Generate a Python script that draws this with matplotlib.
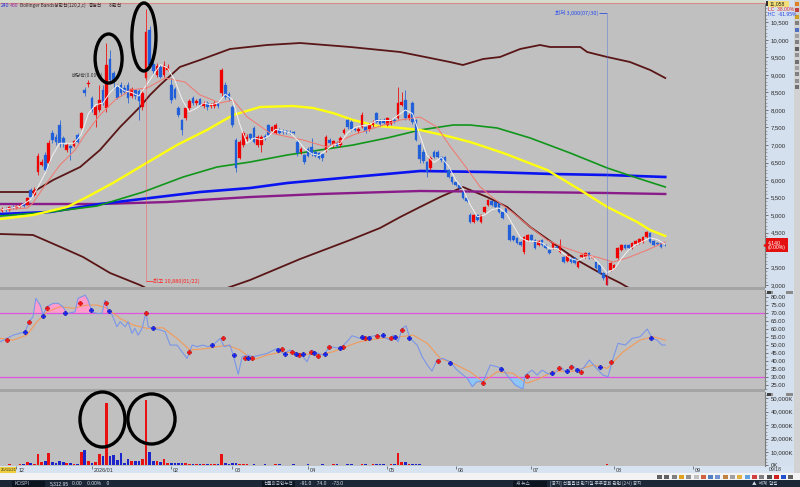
import matplotlib
matplotlib.use("Agg")
import matplotlib.pyplot as plt
import numpy as np
from matplotlib.patches import Ellipse, Rectangle
from matplotlib.ticker import MultipleLocator

plt.rcParams["font.family"] = ["Liberation Sans Narrow", "Liberation Sans", "DejaVu Sans"]
KR = ["Noto Sans CJK KR", "DejaVu Sans"]

# ---------------- data (daily candles, index 0 = first visible day) ----------------
opens = [5120, 5180, 5140, 5220, 5190, 5260, 5300, 5300, 5710, 5560,
         6230, 6440, 6710, 6490, 7340, 7230, 7570, 7200, 6860, 6960,
         6980, 7290, 7490, 8560, 8750, 8340, 7860, 8000, 8570, 8050,
         9460, 9060, 8660, 8710, 8630, 8710, 8400, 8560, 8550, 8085,
         8910, 10290, 9300, 9000, 9230, 9000, 9140, 8710, 8600, 8060,
         7710, 7770, 8050, 8340, 8200, 8300, 8100, 8200, 8100, 8100,
         8200, 8485, 8710, 8450, 8085, 7140, 6630, 7000, 7180, 7300,
         7490, 7000, 7000, 7250, 7570, 7400, 7340, 7430, 7400, 7390,
         7380, 7370, 7090, 6800, 6710, 6900, 6950, 6800, 6770, 6750,
         6860, 7150, 7000, 7050, 7000, 7340, 7710, 7650, 7450, 7400,
         7500, 7500, 7450, 7570, 7910, 7700, 7720, 7570, 7600, 7720,
         7770, 8150, 8290, 7770, 8200, 7710, 7000, 6800, 6510, 6340,
         6800, 6800, 6660, 6660, 6290, 6090, 5940, 5860, 5660, 5490,
         5000, 4800, 5000, 4800, 5090, 5290, 5400, 5370, 5340, 5090,
         5200, 4710, 4400, 4340, 4230, 3940, 4290, 4430, 4290, 4150,
         4290, 4140, 4000, 4060, 4100, 3940, 3800, 3700, 3770, 3770,
         3510, 3800, 3800, 3910, 3770, 3660, 3570, 3350, 3010, 3430,
         3500, 3770, 4000, 4140, 4140, 4060, 4170, 4200, 4230, 4370,
         4490, 4250, 4200, 4200, 4150]
closes = [5180, 5140, 5220, 5190, 5260, 5300, 5270, 5480, 5520, 5720,
          6700, 6520, 6290, 7060, 7140, 7085, 7060, 7060, 7000, 6910,
          7100, 7090, 7910, 8480, 8780, 8000, 8090, 8290, 8200, 9290,
          8860, 8800, 8340, 8490, 8500, 8340, 8600, 8400, 8250, 8490,
          10230, 9290, 9100, 9250, 8940, 9290, 9230, 8290, 8350, 7860,
          7430, 8060, 8250, 8200, 8260, 8150, 8200, 8080, 8150, 8200,
          8120, 9140, 8370, 8340, 7570, 6340, 7090, 7340, 7220, 7200,
          7090, 7230, 7230, 7200, 7290, 7500, 7570, 7340, 7360, 7360,
          7340, 7330, 6770, 6900, 6510, 6700, 6750, 6700, 6630, 6620,
          7230, 7050, 7100, 6980, 7200, 7430, 7510, 7450, 7430, 7450,
          7850, 7400, 7570, 7660, 7660, 7600, 7640, 7770, 7700, 7680,
          8200, 8230, 7770, 7850, 7660, 7140, 6600, 6550, 6230, 6630,
          6660, 6660, 6570, 6290, 6090, 5940, 5860, 5780, 5490, 5400,
          4800, 5000, 4850, 5000, 5230, 5430, 5290, 5230, 5090, 4910,
          5060, 4290, 4300, 4200, 4150, 4370, 4430, 4290, 4060, 4250,
          4150, 4060, 3910, 4200, 4060, 4140, 3660, 3850, 3660, 3630,
          3660, 3850, 3910, 3770, 3800, 3490, 3340, 3200, 3230, 3630,
          3560, 4060, 4140, 4060, 4060, 4200, 4260, 4310, 4370, 4510,
          4230, 4150, 4160, 4090, 4140]
highs = [5230, 5220, 5260, 5280, 5300, 5350, 5360, 5520, 5760, 5800,
         6780, 6600, 6800, 7150, 7420, 7300, 7710, 7250, 7050, 7000,
         7150, 7330, 7950, 8650, 8860, 8400, 8150, 8700, 8700, 9910,
         9700, 9100, 8750, 8800, 8700, 8800, 8650, 8600, 8600, 8600,
         10880, 10400, 9400, 9350, 9300, 9400, 9300, 8900, 8650, 8100,
         7750, 8100, 8300, 8400, 8300, 8350, 8250, 8250, 8200, 8250,
         8250, 9200, 8800, 8500, 8150, 7200, 7150, 7400, 7300, 7350,
         7550, 7280, 7280, 7300, 7600, 7550, 7630, 7480, 7450, 7420,
         7420, 7400, 7150, 6950, 6750, 6950, 7200, 6850, 6800, 6780,
         7280, 7200, 7150, 7100, 7250, 7480, 7750, 7700, 7500, 7500,
         7950, 7550, 7620, 7700, 7950, 7750, 7770, 7800, 7750, 7760,
         8660, 8500, 8570, 7900, 8250, 7750, 7060, 6900, 6550, 6680,
         6850, 6850, 6700, 6700, 6330, 6120, 5980, 5900, 5700, 5520,
         5050, 5040, 5030, 5040, 5270, 5470, 5440, 5400, 5370, 5120,
         5230, 4750, 4430, 4370, 4260, 4400, 4470, 4460, 4320, 4280,
         4320, 4170, 4030, 4230, 4130, 4320, 3830, 3880, 3800, 3800,
         3690, 3880, 3940, 3940, 3830, 3690, 3600, 3380, 3280, 3660,
         3600, 4090, 4170, 4170, 4170, 4230, 4290, 4340, 4400, 4540,
         4520, 4280, 4230, 4230, 4170]
lows = [5080, 5100, 5110, 5160, 5170, 5230, 5240, 5280, 5480, 5530,
        6150, 6400, 6240, 6450, 7050, 7000, 6950, 6950, 6800, 6580,
        6950, 7050, 7450, 8400, 8650, 7950, 7500, 7950, 8150, 7950,
        8800, 8600, 8300, 8400, 8450, 8200, 8350, 8300, 7710, 8000,
        8850, 9200, 9000, 8950, 8900, 8950, 9100, 8200, 8300, 7800,
        7290, 7700, 8000, 8150, 8150, 8100, 8050, 8000, 8050, 8050,
        8050, 8400, 8300, 8250, 7500, 6230, 6600, 6950, 7100, 7150,
        7050, 6950, 6800, 7150, 7250, 7350, 7300, 7300, 7320, 7320,
        7300, 7300, 6700, 6750, 6450, 6650, 6700, 6650, 6600, 6550,
        6800, 7000, 6950, 6950, 6950, 7300, 7450, 7400, 7400, 7350,
        7480, 7350, 7400, 7520, 7620, 7550, 7600, 7530, 7560, 7640,
        7740, 8100, 7720, 7720, 7600, 7100, 6490, 6500, 6100, 6300,
        6620, 6620, 6520, 6250, 6050, 5900, 5820, 5740, 5450, 5360,
        4760, 4770, 4820, 4770, 5060, 5260, 5250, 5200, 5060, 4880,
        5020, 4250, 4260, 4170, 4120, 3900, 4260, 4260, 4030, 4120,
        4120, 4030, 3880, 4030, 4030, 3910, 3630, 3670, 3630, 3600,
        3480, 3770, 3770, 3740, 3740, 3460, 3310, 3150, 3000, 3400,
        3470, 3740, 3970, 4030, 4030, 4030, 4140, 4170, 4200, 4340,
        4200, 4120, 4130, 4060, 4120]
volumes_k = [600, 450, 700, 500, 650, 800, 700, 2200, 1600, 900,
             8700, 2500, 3200, 9200, 2500, 1600, 3000, 2600, 1600, 1600,
             1200, 1200, 9900, 11200, 3200, 2000, 2500, 8200, 7000, 46200,
             7000, 7500, 4200, 9200, 2000, 4500, 3000, 3000, 3200, 4500,
             48700, 10100, 3200, 3200, 2500, 5000, 2000, 2000, 1600, 2000,
             1600, 1600, 1200, 1200, 700, 700, 700, 1400, 1400, 700,
             700, 8700, 2000, 1400, 1600, 2000, 1200, 900, 700, 600,
             800, 600, 500, 700, 600, 500, 800, 900, 600, 500,
             600, 700, 500, 600, 500, 700, 600, 500, 600, 700,
             600, 500, 700, 900, 600, 500, 1200, 700, 600, 600,
             800, 1200, 600, 700, 1400, 1400, 700, 600, 800, 700,
             9500, 2500, 2200, 1200, 800, 800, 900, 600, 500, 600,
             500, 400, 500, 600, 500, 400, 500, 600, 500, 400,
             600, 500, 400, 500, 600, 500, 400, 500, 600, 400,
             500, 600, 400, 500, 500, 600, 400, 500, 600, 400,
             500, 400, 600, 500, 400, 500, 600, 400, 500, 400,
             600, 500, 400, 500, 600, 400, 500, 600, 700, 600,
             500, 600, 500, 400, 500, 600, 500, 400, 600, 500,
             400, 500, 400, 500, 400]

# moving averages / bands (x = day index, y = price)
ma5_x = [0, 5, 8] + list(range(10, 185, 2))
ma5_y = [5150, 5250, 5450, 5800, 6200, 6700, 7050, 7050, 7050, 7300, 7900, 8150, 8200, 8500,
         8700, 8550, 8500, 8400, 8700, 9000, 9300, 9200, 8850, 8300, 7950, 8050, 8200, 8150,
         8200, 8450, 8300, 7600, 7050, 7200, 7150, 7250, 7450, 7400, 7350, 7150, 6900, 6750,
         6700, 6850, 7000, 7050, 7350, 7500, 7550, 7580, 7700, 7700, 7700, 7850, 8000, 7900,
         7300, 6700, 6500, 6650, 6400, 6000, 5750, 5300, 4950, 5000, 5150, 5200, 5050, 4700,
         4350, 4250, 4250, 4200, 4050, 4050, 3900, 3750, 3700, 3800, 3800, 3600, 3350, 3450,
         3750, 4000, 4150, 4250, 4350, 4300, 4170]
ma20_x = [-0.5, 7, 8.6, 12, 16.1, 20.3, 23, 27.2, 31.4, 35.6, 40.3, 45.3, 50.8, 55, 60.6, 64.2,
          68.1, 74.4, 83.6, 90.3, 97.5, 104.2, 110.6, 116.1, 120.8, 124.4, 128.6, 132.8, 136.4,
          142, 146.7, 151.4, 155.8, 160.6, 166.1, 169.7, 173.6, 179.2, 184.2]
ma20_y = [5143, 5200, 5343, 5857, 6429, 6857, 7286, 7857, 8286, 8571, 8629, 8914, 8800, 8429,
          8200, 8286, 7800, 7343, 7143, 6943, 7286, 7514, 7714, 7800, 7514, 6971, 6400, 5800,
          5486, 5057, 4657, 4286, 4086, 3914, 3771, 3657, 3771, 4000, 4229]
ma60_x = [-0.5, 8.6, 18.1, 23.6, 30.8, 39.2, 48.6, 56.9, 64.2, 71.7, 80.8, 86.4, 91.9, 97.5,
          104.2, 110.6, 116.1, 123.6, 130, 139.2, 151.4, 160.6, 168.1, 176.4, 180, 184.2]
ma60_y = [4886, 5000, 5229, 5514, 5914, 6429, 7000, 7429, 7857, 8086, 8114, 8057, 7914, 7714,
          7543, 7486, 7429, 7257, 7086, 6771, 6286, 5714, 5229, 4800, 4571, 4400]
ma120_x = [-0.5, 13.3, 26.4, 39.2, 50.3, 59.7, 68.9, 79.2, 88.3, 97.5, 106.9, 116.1, 125.3,
           130, 137.5, 146.7, 157.8, 168.1, 176.4, 184.2]
ma120_y = [4971, 5086, 5257, 5657, 6086, 6371, 6514, 6714, 6857, 7000, 7200, 7429, 7571,
           7571, 7486, 7200, 6771, 6343, 6057, 5800]
ma240_x = [-0.5, 13.3, 27.2, 41.1, 55, 68.9, 79.2, 97.5, 116.1, 134.7, 153, 168.1, 184.2]
ma240_y = [5029, 5086, 5314, 5486, 5657, 5771, 5914, 6086, 6257, 6229, 6171, 6143, 6086]
ma480_x = [-0.5, 27.2, 45.8, 68.9, 88.3, 116.1, 143.9, 168.1, 184.2]
ma480_y = [5314, 5314, 5371, 5514, 5600, 5686, 5657, 5629, 5600]
bbu_x = [-0.5, 8.6, 14.2, 21.7, 27.2, 32.8, 38.3, 41.1, 43.9, 49.4, 55, 63.3, 73.6, 82.8, 96.7,
         110.6, 118.9, 124.4, 128, 133.6, 138.3, 143.9, 149.4, 152.2, 160.6, 162.5, 168.1,
         174.4, 180, 184.2]
bbu_y = [5657, 5657, 6000, 6371, 6857, 7514, 8086, 8429, 8714, 9229, 9429, 9743, 9857, 9914,
         9800, 9657, 9486, 9371, 9286, 9457, 9514, 9743, 9857, 9800, 9800, 9657, 9514, 9371,
         9143, 8914]
bbl_x = [-0.5, 8.6, 16.9, 22.5, 30, 38.3, 43.9, 52.2, 57.8, 62.5, 68.9, 82.8, 96.7, 105, 110.6,
         116.1, 121.7, 128, 134.7, 140.3, 146.7, 153, 159.7, 166.1, 171.7, 173.6, 184.2]
bbl_y = [4457, 4429, 4057, 3800, 3343, 3000, 2714, 2430, 2571, 2914, 3143, 3743, 4286, 4629,
         4943, 5229, 5514, 5800, 5514, 5229, 4657, 4200, 3714, 3343, 3057, 2943, 2430]

# oscillator (x = day index)
osc_x = [-0.5, 1.4, 3.1, 6.4, 7.8, 8.6, 9.4, 10.6, 11.4, 12.5, 14.2, 15.6, 16.9, 18.1, 20.3,
         21.1, 23.1, 23.9, 25, 26.4, 27.8, 28.6, 29.4, 30.6, 31.9, 32.8, 34.2, 35, 36.1, 36.9,
         37.8, 38.9, 40, 40.6, 41.9, 43.9, 45.3, 46.7, 48.6, 50, 51.4, 52.8, 54.2, 55.8, 57.2,
         58.6, 60.6, 61.7, 63.3, 64.2, 65.6, 66.7, 68.3, 69.7, 71.7, 73.6, 76.4, 78.1, 80, 81.9,
         83.3, 84.7, 86.1, 87.8, 89.2, 91.1, 93.9, 95.8, 97.2, 99.4, 102.2, 104.2, 105.8, 107.8,
         108.6, 110, 111.1, 112.2, 113.3, 115.3, 116.7, 118.1, 119.4, 120.8, 122.5, 124.4,
         126.4, 129.2, 130.6, 131.9, 133.6, 135.6, 137.5, 138.9, 140.6, 142.5, 144.7, 145.3,
         147.2, 148.6, 150, 151.4, 153.1, 154.2, 155.6, 156.9, 158.3, 159.7, 161.4, 163.1,
         164.7, 166.9, 168.3, 169.7, 171.1, 173.1, 175, 177.2, 179.2, 180.6, 181.9, 183.3, 184.2]
osc_y = [51.9, 54, 56, 58.1, 65.4, 67.4, 78.9, 74.7, 68.5, 73.7, 75.8, 75.8, 73.7, 69.5, 70.5,
         78.9, 80.9, 77.8, 70.5, 69.5, 69.5, 77.8, 71.6, 68.5, 61.2, 64.3, 61.2, 64.3, 57.1, 60.2,
         56, 60.2, 70.5, 61.2, 60.2, 59.2, 58.1, 49.8, 49.8, 45.6, 41.5, 49.8, 48.8, 49.8, 48.8,
         49.8, 54, 48.8, 49.8, 43.6, 31.6, 42.5, 43.6, 42.5, 43.6, 44.6, 47.7, 44.6, 46.7, 44.6,
         43.6, 39.4, 46.7, 44.6, 43.6, 48.8, 47.7, 51.9, 55.6, 54, 55, 56, 55, 52.9, 56, 51.9,
         60.2, 61.8, 54, 49.8, 42.5, 37.4, 33.6, 40.5, 41.5, 39.4, 34.2, 29.1, 23.9, 27, 27,
         37.4, 36.3, 35.3, 30.1, 24.9, 22.4, 31.1, 34.2, 31.1, 34.2, 32.2, 31.1, 34.2, 35.3,
         32.2, 37.4, 34.2, 35.3, 40.5, 36.3, 31.1, 30.1, 41.5, 50.9, 49.8, 54, 55, 59.8, 54,
         52.9, 49.8, 49.8]
sig_x = [-0.5, 3.1, 6.9, 9.7, 12.5, 16.1, 19.7, 23.6, 26.4, 29.2, 32.8, 36.4, 40.3, 44.7, 48.6,
         52.2, 56.9, 62.5, 66.1, 69.7, 73.6, 78.1, 82.8, 87.5, 91.9, 96.7, 99.4, 105, 110.6,
         114.2, 118.1, 121.7, 125.3, 130, 133.6, 137.5, 141.9, 145.8, 149.4, 153.1, 158.6,
         164.2, 168.1, 172.5, 177.2, 180.8, 184.2]
sig_y = [54, 52.9, 56, 64.3, 70.5, 73.7, 72.7, 74.7, 74.7, 72.7, 66.4, 62.3, 60.2, 60.6, 54,
         46.7, 47.7, 49.8, 46.7, 40.5, 43.6, 45.6, 44.6, 43.6, 45.6, 49.8, 51.9, 54, 55, 56,
         50.9, 41.5, 38.4, 33.2, 27, 33.2, 32.2, 26, 29.1, 33.5, 33.5, 37.4, 35.3, 45.6, 52.9,
         55, 52.9]
mark_x = [1.4, 6.4, 7.5, 11.4, 12.5, 17.5, 21.7, 24.7, 28.9, 29.7, 40, 41.9, 51.9, 58.3, 61.4,
          64.4, 67.5, 68.3, 69.4, 76.7, 77.8, 78.6, 80.6, 81.7, 82.5, 83.6, 85.8, 86.7, 87.8,
          89.7, 90.8, 93.9, 94.7, 100, 100.8, 101.9, 104.2, 105.8, 108.1, 109.2, 111.1, 113.1,
          121.1, 124.4, 133.6, 138.6, 145.8, 152.8, 154.7, 156.9, 158.1, 159.7, 160.8, 166.1,
          169.2, 180.3]
mark_v = [52.9, 58.1, 64.1, 68.1, 73.0, 69.7, 76.0, 71.6, 76.0, 71.0, 69.9, 60.2, 45.6, 49.8,
          54.0, 43.6, 41.9, 41.9, 41.9, 46.7, 47.1, 44.0, 45.3, 44.0, 43.6, 44.0, 45.3, 44.6,
          43.0, 44.2, 48.6, 48.1, 48.6, 55.0, 54.0, 54.4, 55.4, 56.0, 54.4, 55.0, 59.2, 54.4,
          39.9, 38.4, 26.0, 34.9, 30.7, 32.2, 35.7, 33.6, 36.3, 34.4, 32.8, 36.3, 39.0, 54.4]
mark_kind = "BSBSBSBSBSBSBSBSBSBSBSBSBSBSBSBSBSBSBSBSBSBSBSBSBSBSBSBS"

month_idx = [4, 25, 47, 64, 85, 107, 126, 147, 170, 192]
month_lab = ["12", "2026/01", "02", "03", "04", "05", "06", "07", "08", "09"]
price_ticks = list(range(3000, 11000, 500))
osc_ticks = list(range(25, 85, 5))
vol_ticks = [0, 10000, 20000, 30000, 40000, 50000]

HIGH_IDX, LOW_IDX = 40, 168
LAST_PRICE = 4140

# ---------------- figure ----------------
W, H = 800, 487
fig = plt.figure(figsize=(8.0, 4.87), dpi=100)
fig.patch.set_facecolor("#a4a4a4")

def fbox(x0, y0, x1, y1):
    return [x0 / W, 1 - y1 / H, (x1 - x0) / W, (y1 - y0) / H]

def frect(x0, y0, x1, y1, color, z=-5):
    fig.add_artist(Rectangle((x0 / W, 1 - y1 / H), (x1 - x0) / W, (y1 - y0) / H,
                             transform=fig.transFigure, facecolor=color,
                             edgecolor="none", zorder=z))

def ftxt(x, y, s, z=20, **kw):
    kw.setdefault("fontsize", 3.8)
    kw.setdefault("va", "center")
    kw.setdefault("ha", "left")
    fig.text(x / W, 1 - y / H, s, zorder=z, **kw)

# background strips
frect(0, 0, 765, 3, "#d6dccd")
frect(765, 0, 794, 466, "#d5e0ee")
frect(794, 0, 800, 474, "#d2d2d2")
frect(0, 466, 794, 473, "#d7e3f1")
frect(0, 473, 800, 480, "#f3f3f3")
frect(0, 480, 800, 487, "#1b2637")

GRAY = "#c0c0c0"
XMIN, XMAX = -0.56, 211.9
RED, BLUE = "#f00000", "#2260da"
VRED, VBLUE = "#e81010", "#1c24cc"

def style(ax, ylo, yhi):
    ax.set_facecolor(GRAY)
    ax.set_xlim(XMIN, XMAX)
    ax.set_ylim(ylo, yhi)
    for s in ("left", "bottom", "top"):
        ax.spines[s].set_visible(False)
    ax.spines["right"].set_color("#7c7c7c")
    ax.spines["right"].set_linewidth(0.8)
    ax.yaxis.tick_right()
    ax.tick_params(axis="y", which="major", direction="out", length=2.5, width=0.5,
                   color="#4a4a4a", pad=1.6, labelsize=4.3, labelcolor="#2a2a2a")
    ax.tick_params(axis="y", which="minor", direction="out", length=1.1, width=0.4,
                   color="#6a6a6a")
    ax.tick_params(axis="x", which="both", bottom=False, labelbottom=False)

ax_p = fig.add_axes(fbox(0, 3, 765, 287))
ax_o = fig.add_axes(fbox(0, 290, 765, 389))
ax_v = fig.add_axes(fbox(0, 392, 765, 466))
style(ax_p, 2943, 11057)
style(ax_o, 22.45, 84.1)
style(ax_v, -450, 54700)
ax_p.spines["top"].set_visible(True)
ax_p.spines["top"].set_color("#d88a8a")
ax_p.spines["top"].set_linewidth(0.8)

# ----- price panel -----
o = np.array(opens); c = np.array(closes); hi = np.array(highs); lo = np.array(lows)
idx = np.arange(len(o))
up = c >= o
ccol = np.where(up, RED, BLUE)
vcol = np.where(up, VRED, VBLUE)

ax_p.plot(bbu_x, bbu_y, color="#5a1616", lw=1.3, zorder=2)
ax_p.plot(bbl_x, bbl_y, color="#5a1616", lw=1.3, zorder=2)
ax_p.plot(ma480_x, ma480_y, color="#8a1c8a", lw=1.7, zorder=2)
ax_p.plot(ma240_x, ma240_y, color="#0a14f0", lw=1.9, zorder=2)
ax_p.plot(ma120_x, ma120_y, color="#10961a", lw=1.2, zorder=2)
ax_p.plot(ma60_x, ma60_y, color="#ffff10", lw=1.7, zorder=2)

ax_p.vlines(idx, lo, hi, colors=ccol, linewidth=0.55, zorder=3)
ax_p.bar(idx, np.maximum(np.abs(c - o), 14), bottom=np.minimum(o, c), width=0.74,
         color=ccol, edgecolor=ccol, linewidth=0.2, zorder=4)

ax_p.plot(ma20_x, ma20_y, color="#f07a72", lw=0.75, zorder=5)
ax_p.plot(ma5_x, ma5_y, color="#f2f2f2", lw=0.7, zorder=5)

# the 4,000 label sits under the current-price box in the reference
ax_p.set_yticks(price_ticks)
ax_p.set_yticklabels([("" if v == 4000 else f"{v:,}") for v in price_ticks])
ax_p.yaxis.set_minor_locator(MultipleLocator(100))

# high / low annotations
ax_p.vlines(HIGH_IDX, 3110, highs[HIGH_IDX], colors="#ff4a4a", linestyles=(0, (1.2, 1.2)),
            lw=0.6, zorder=6)
ax_p.hlines(3110, HIGH_IDX, HIGH_IDX + 1.8, colors="#ff3030", lw=0.6, zorder=6)
ax_p.text(HIGH_IDX + 2.0, 3110, f"최고 {highs[HIGH_IDX]:,}(01/22)", color="#ff2020",
          fontsize=4.0, family=KR, va="center", ha="left", zorder=7)
ax_p.vlines(LOW_IDX, lows[LOW_IDX], 10770, colors="#4a6ae0", linestyles=(0, (1.2, 1.2)),
            lw=0.6, zorder=6)
ax_p.hlines(10770, LOW_IDX - 2.2, LOW_IDX, colors="#3050e0", lw=0.6, zorder=6)
ax_p.text(LOW_IDX - 2.4, 10770, f"최저 {lows[LOW_IDX]:,}(07/30)", color="#2048f0",
          fontsize=4.0, family=KR, va="center", ha="right", zorder=7)
ax_p.text(19.4, 9000, "배당락(0.00%)", color="#3a3a3a", fontsize=3.6, family=KR,
          va="center", ha="left", zorder=3)

# hand-drawn ellipses
for (ex, ey, ew, eh) in [(29.6, 9471, 7.5, 1400), (39.4, 10086, 6.7, 1943)]:
    ax_p.add_patch(Ellipse((ex, ey), ew, eh, fill=False, ec="black", lw=2.4,
                           clip_on=False, zorder=9))

# current price box
ax_p.annotate(f"{LAST_PRICE:,}\n(0.00%)", xy=(1.0, LAST_PRICE), xycoords=("axes fraction", "data"),
              xytext=(2.2, 0), textcoords="offset points", fontsize=3.7, color="white",
              va="center", ha="left", linespacing=1.0, annotation_clip=False, zorder=12,
              bbox=dict(boxstyle="square,pad=0.35", fc="#e41010", ec="none"))
ax_p.plot([XMAX], [LAST_PRICE], marker="<", ms=2.2, color="#e41010", clip_on=False, zorder=12)

# ----- oscillator panel -----
ox = np.array(osc_x); oy = np.array(osc_y)
ax_o.fill_between(ox, oy, 70, where=oy >= 70, interpolate=True, color="#ff9ccc", lw=0, zorder=2)
ax_o.fill_between(ox, oy, 30, where=oy <= 30, interpolate=True, color="#8ec6f6", lw=0, zorder=2)
ax_o.axhline(70, color="#e052e0", lw=0.9, zorder=2)
ax_o.axhline(30, color="#e052e0", lw=0.9, zorder=2)
ax_o.plot(sig_x, sig_y, color="#f29a5a", lw=0.8, zorder=3)
ax_o.plot(ox, oy, color="#7a96e8", lw=0.8, zorder=4)
mk = np.array(list(mark_kind))
mx = np.array(mark_x); mv = np.array(mark_v)
ax_o.plot(mx[mk == "B"], mv[mk == "B"], ls="none", marker="P", ms=3.4, color="#ff1010",
          mec="#900000", mew=0.2, zorder=5)
ax_o.plot(mx[mk == "S"], mv[mk == "S"], ls="none", marker="P", ms=3.4, color="#1020ff",
          mec="#000080", mew=0.2, zorder=5)
ax_o.set_yticks(osc_ticks)
ax_o.set_yticklabels([f"{v:.2f}" for v in osc_ticks])
ax_o.yaxis.set_minor_locator(MultipleLocator(2.5))

# ----- volume panel -----
ax_v.bar(idx, volumes_k, width=0.74, color=vcol, lw=0, zorder=3)
ax_v.set_yticks(vol_ticks)
ax_v.set_yticklabels([f"{v:,}K" for v in vol_ticks])
ax_v.yaxis.set_minor_locator(MultipleLocator(2500))
for (ex, ey, ew, eh) in [(27.9, 34200, 12.5, 41000), (41.5, 34600, 13.1, 37300)]:
    ax_v.add_patch(Ellipse((ex, ey), ew, eh, fill=False, ec="black", lw=2.4,
                           clip_on=False, zorder=9))
ax_v.set_xticks(month_idx)
ax_v.tick_params(axis="x", which="major", bottom=True, direction="out", length=2.3,
                 width=0.5, color="#505050", labelbottom=False)
for m, lab in zip(month_idx, month_lab):
    ax_v.text(m + 0.5, -0.025, lab, transform=ax_v.get_xaxis_transform(), ha="left",
              va="top", fontsize=3.9, color="#303030", clip_on=False)

# ----- header / right strip decorations -----
ftxt(1, 5.6, "240", color="#2430d8", fontsize=3.6)
ftxt(10, 5.6, "480", color="#9a2a9a", fontsize=3.6)
ftxt(20, 5.6, "Bollinger Bands상한선(120,2,c)", color="#3a2020", fontsize=3.4, family=KR)
ftxt(89, 5.6, "중심선", color="#3a2020", fontsize=3.4, family=KR)
ftxt(109, 5.6, "하한선", color="#3a2020", fontsize=3.4, family=KR)

frect(765.5, 1, 767.5, 5.5, "#303030", z=15)
frect(768, 0.8, 789, 6.6, "#f3df78", z=15)
ftxt(769.5, 3.8, "11,058", color="#202020", fontsize=3.7)
ftxt(768, 9.6, "LC  38.00%", color="#e02424", fontsize=3.6)
ftxt(768, 14.4, "HC  -61.95%", color="#2444e0", fontsize=3.6)

for yy in (290.5, 392.5):
    frect(766.5, yy, 770.5, yy + 3, "#404040", z=15)
    frect(771, yy + 0.5, 772.5, yy + 3, "#909090", z=15)
    frect(786, yy, 793, yy + 3, "#8a8a8a", z=15)

ftxt(768.5, 469.6, "09/18", color="#303030", fontsize=3.7)
frect(0, 466.6, 16, 472.6, "#efcf3c", z=15)
ftxt(0.8, 469.6, "25/11/21", color="#303030", fontsize=3.1)

# right-hand toolbar
tool_cols = ["#e08020", "#c04040", "#d0a020", "#808080", "#5070c0", "#a0a0a0", "#808080",
             "#606060", "#909090", "#707070", "#a0a0a0", "#808080", "#909090", "#707070"]
for k, col in enumerate(tool_cols):
    frect(795.2, 2 + k * 6.4, 799.2, 6 + k * 6.4, col, z=15)
bottom_cols = ["#606060", "#606060", "#808080", "#e0a020", "#909090", "#c0c0c0", "#d06040",
               "#5080c0", "#7090d0", "#c08040", "#a0a0a0", "#e0b040", "#60a0e0", "#d04040",
               "#808080", "#505050", "#d02020", "#2050d0", "#606060"]
for k, col in enumerate(bottom_cols):
    frect(657 + k * 7.3, 474.6, 662 + k * 7.3, 478.8, col, z=15)

# bottom status bar
frect(12, 480.6, 45, 486.6, "#0c1420", z=15)
ftxt(15, 483.6, "KOSPI", color="#c4ccdc", fontsize=3.5)
ftxt(50, 483.6, "5,312.95", color="#d8dde8", fontsize=3.5)
ftxt(72, 483.6, "0.00    0.00%    0", color="#d8dde8", fontsize=3.5)
frect(262, 480.6, 295, 486.6, "#0c1420", z=15)
ftxt(264, 483.6, "선물외국인누적", color="#c4ccdc", fontsize=3.3, family=KR)
ftxt(300, 483.6, "-91.0    74.0    -73.0", color="#d8dde8", fontsize=3.5)
frect(513, 480.6, 547, 486.6, "#0c1420", z=15)
ftxt(516, 483.6, "새 뉴스", color="#c4ccdc", fontsize=3.3, family=KR)
ftxt(550, 483.6, "[공지] 선물옵션 만기일 주주총회 관련 (2시) 공지", color="#d0d6e2",
     fontsize=3.3, family=KR)
ftxt(752, 483.6, "▲  세계  알림", color="#d0d6e2", fontsize=3.3, family=KR)

fig.savefig("out.png", dpi=100, facecolor=fig.get_facecolor())
